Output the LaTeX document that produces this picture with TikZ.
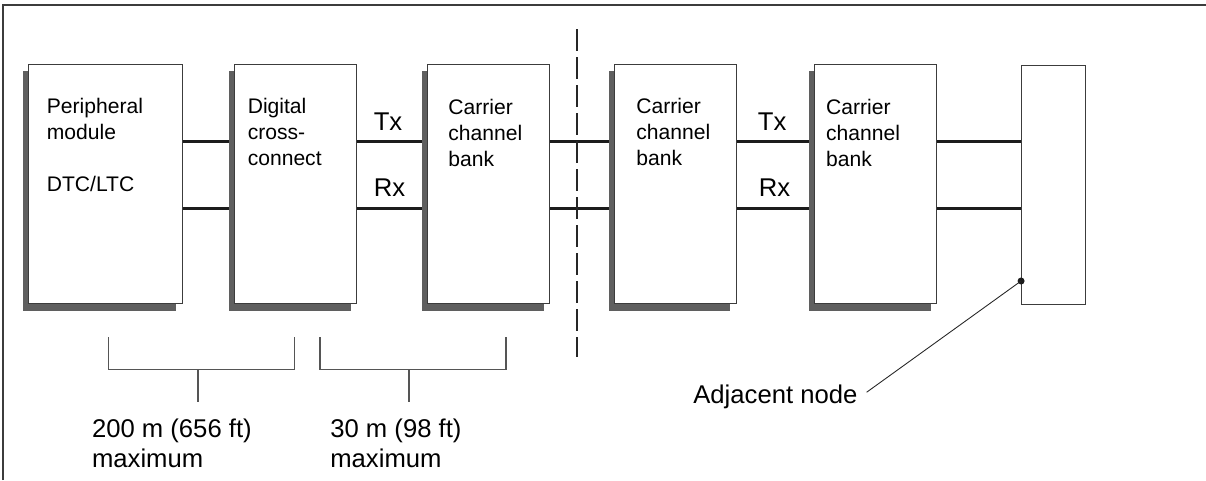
\documentclass[tikz,border=0pt]{standalone}
\usepackage{fontspec}
\setmainfont{Liberation Sans}
\usetikzlibrary{positioning, calc, shadows, backgrounds}
\definecolor{shadegray}{RGB}{95,95,95}
\definecolor{edgegray}{RGB}{60,60,60}
\definecolor{wiregray}{RGB}{28,28,28}
\definecolor{bracegray}{RGB}{85,85,85}

\begin{document}
\begin{tikzpicture}[
		x=0.02cm, y=-0.02cm,
		unit/.style={draw=edgegray, line width=0.55pt, fill=white, minimum height=4.8cm, inner sep=0pt,
			drop shadow={shadow xshift=-0.12cm, shadow yshift=-0.134cm, fill=shadegray, opacity=1}},
		bare/.style={draw=edgegray, line width=0.55pt, fill=white, minimum height=4.8cm, minimum width=1.274cm, inner sep=0pt},
		txt/.style={font=\fontsize{12}{14.8}\selectfont, align=left, inner sep=0pt, anchor=base west},
		lbl/.style={font=\fontsize{14.6}{17}\selectfont, align=left, inner sep=0pt},
		wire/.style={draw=wiregray, line width=1.5pt},
		brace/.style={draw=bracegray, line width=0.6pt},
		cut/.style={draw=black!85, line width=1.1pt, dash pattern=on 0.44cm off 0.12cm}
		]
		\useasboundingbox (0,0) rectangle (1206,480);
		\draw[edgegray, line width=0.7pt] (3,480) -- (3,5) -- (1206,5);
		
		% equipment
		\node[unit, minimum width=3.07cm] (pm) at (105.25,184) {};
		\node[unit, minimum width=2.44cm, right=1.04cm of pm] (dcc) {};
		\node[unit, minimum width=2.44cm, right=1.394cm of dcc] (ccA) {};
		\node[unit, minimum width=2.43cm, right=1.28cm of ccA] (ccB) {};
		\node[unit, minimum width=2.446cm, right=1.554cm of ccB] (ccC) {};
		\node[bare, right=1.674cm of ccC, yshift=-0.02cm] (adj) {};
		
		% text sits on the baseline of its last line
		\node[txt] (pmtxt) at ($(pm.north west)+(18.5,128)$) {Peripheral\\module\\[14.8pt]DTC/LTC};
		\node[txt] (dcctxt) at ($(dcc.north west)+(13,101.7)$) {Digital\\cross-\\connect};
		\node[txt] (ccAtxt) at ($(ccA.north west)+(21,103.4)$) {Carrier\\channel\\bank};
		\node[txt] (ccBtxt) at ($(ccB.north west)+(22,101.7)$) {Carrier\\channel\\bank};
		\node[txt] (ccCtxt) at ($(ccC.north west)+(11.7,102.7)$) {Carrier\\channel\\bank};
		
		% Tx / Rx pairs
		\coordinate (txrow) at (0,141.7);
		\coordinate (rxrow) at (0,208.3);
		\begin{pgfonlayer}{background}
			\foreach \a/\b in {pm/dcc, dcc/ccA, ccA/ccB, ccB/ccC, ccC/adj}
			\foreach \r in {txrow, rxrow}
			\draw[wire] (\a.east |- \r) -- (\b.west |- \r);
		\end{pgfonlayer}
		
		\node[lbl, anchor=base] (txA) at ($(dcc.east |- txrow)!0.44!(ccA.west |- txrow)+(0,-11.7)$) {Tx};
		\node[lbl, anchor=base] (rxA) at ($(dcc.east |- rxrow)!0.46!(ccA.west |- rxrow)+(0,-11.6)$) {Rx};
		\node[lbl, anchor=base] (txB) at ($(ccB.east |- txrow)!0.46!(ccC.west |- txrow)+(0,-11.7)$) {Tx};
		\node[lbl, anchor=base] (rxB) at ($(ccB.east |- rxrow)!0.49!(ccC.west |- rxrow)+(0,-11.6)$) {Rx};
		
		% demarcation
		\coordinate (cutT) at (577.3,29.3);
		\coordinate (cutB) at (577.3,356.7);
		\draw[cut] (cutT) -- (cutB);
		
		% distance limits
		\node[lbl, anchor=base west] (spanA) at (91.7,467.3) {200 m (656 ft)\\maximum};
		\node[lbl, anchor=base west] (spanB) at (330,467.3) {30 m (98 ft)\\maximum};
		\coordinate (brA) at (198,369.3);
		\coordinate (brB) at (409,369.3);
		\draw[brace] (108.7,337.3) |- (294.7,369.3) -- (294.7,337.3);
		\draw[brace] (320,337.3) |- (506,369.3) -- (506,337.3);
		\draw[brace] (brA) -- (198,402.3);
		\draw[brace] (brB) -- (409,402.3);
		
		% adjacent node callout
		\node[lbl, anchor=base west] (adjtxt) at (693,403.3) {Adjacent node};
		\coordinate (tapy) at (0,281);
		\coordinate (tap) at (adj.west |- tapy);
		\fill[wiregray] (tap) circle (0.07cm);
		\draw[black!85, line width=0.5pt, shorten <=0.22cm] (adjtxt.mid east) -- (tap);
	\end{tikzpicture}
\end{document}
